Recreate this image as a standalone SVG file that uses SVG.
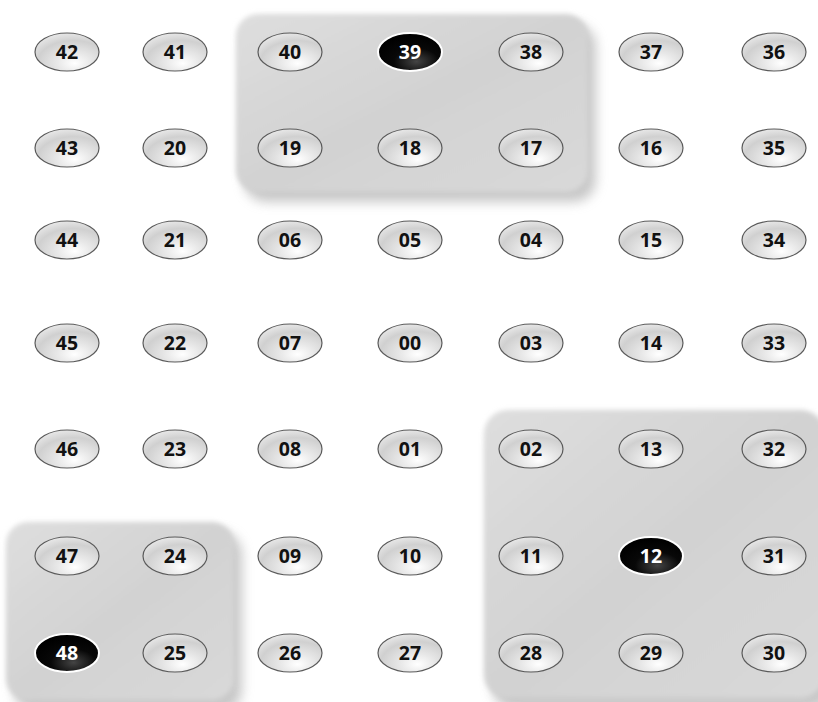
<svg xmlns="http://www.w3.org/2000/svg" width="818" height="702" viewBox="0 0 818 702">
<defs>
<linearGradient id="panelG" x1="0" y1="0" x2="1" y2="1">
<stop offset="0" stop-color="#dedede"/>
<stop offset="0.5" stop-color="#d2d2d2"/>
<stop offset="1" stop-color="#d9d9d9"/>
</linearGradient>
<radialGradient id="nodeG" cx="0.6" cy="0.75" r="0.75" fx="0.62" fy="0.8">
<stop offset="0" stop-color="#ffffff"/>
<stop offset="0.35" stop-color="#e8e8e8"/>
<stop offset="0.75" stop-color="#d0d0d0"/>
<stop offset="1" stop-color="#e6e6e6"/>
</radialGradient>
<radialGradient id="blackG" cx="0.6" cy="0.75" r="0.7">
<stop offset="0" stop-color="#444"/>
<stop offset="0.5" stop-color="#080808"/>
<stop offset="1" stop-color="#000"/>
</radialGradient>
<filter id="shadow" x="-10%" y="-10%" width="125%" height="130%">
<feGaussianBlur stdDeviation="6"/>
</filter>
<filter id="soft" x="-5%" y="-5%" width="110%" height="110%">
<feGaussianBlur stdDeviation="2.5"/>
</filter>
</defs>
<style>
.panel{fill:url(#panelG);filter:url(#soft)}
.shd{fill:#9a9a9a;opacity:0.55;filter:url(#shadow)}
.n ellipse{fill:url(#nodeG);stroke:#5a5a5a;stroke-width:1.2}
.n text{font-family:"Open Sans","Liberation Sans",sans-serif;font-weight:bold;font-size:19.5px;fill:#111;text-anchor:middle;dominant-baseline:central}
.k ellipse{fill:url(#blackG);stroke:#ffffff;stroke-width:2}
.k text{font-family:"Open Sans","Liberation Sans",sans-serif;font-weight:bold;font-size:19.5px;fill:#fff;text-anchor:middle;dominant-baseline:central}
</style>
<rect width="818" height="702" fill="#ffffff"/>
<g id="panels">
<rect class="shd" x="244" y="24" width="352" height="178" rx="22"/>
<rect class="panel" x="236" y="14" width="352" height="178" rx="22"/>
<rect class="shd" x="14" y="532" width="228" height="180" rx="22"/>
<rect class="panel" x="6" y="522" width="228" height="178" rx="22"/>
<rect class="shd" x="492" y="420" width="340" height="290" rx="24"/>
<rect class="panel" x="484" y="410" width="340" height="288" rx="24"/>
</g>
<g id="connectors"></g>
<g id="n42" class="n"><ellipse cx="67" cy="52" rx="32" ry="19"/><text x="67" y="51">42</text></g>
<g id="n41" class="n"><ellipse cx="175" cy="52" rx="32" ry="19"/><text x="175" y="51">41</text></g>
<g id="n40" class="n"><ellipse cx="290" cy="52" rx="32" ry="19"/><text x="290" y="51">40</text></g>
<g id="n39" class="k"><ellipse cx="410" cy="52" rx="32" ry="19"/><text x="410" y="51">39</text></g>
<g id="n38" class="n"><ellipse cx="531" cy="52" rx="32" ry="19"/><text x="531" y="51">38</text></g>
<g id="n37" class="n"><ellipse cx="651" cy="52" rx="32" ry="19"/><text x="651" y="51">37</text></g>
<g id="n36" class="n"><ellipse cx="774" cy="52" rx="32" ry="19"/><text x="774" y="51">36</text></g>
<g id="n43" class="n"><ellipse cx="67" cy="148" rx="32" ry="19"/><text x="67" y="147">43</text></g>
<g id="n20" class="n"><ellipse cx="175" cy="148" rx="32" ry="19"/><text x="175" y="147">20</text></g>
<g id="n19" class="n"><ellipse cx="290" cy="148" rx="32" ry="19"/><text x="290" y="147">19</text></g>
<g id="n18" class="n"><ellipse cx="410" cy="148" rx="32" ry="19"/><text x="410" y="147">18</text></g>
<g id="n17" class="n"><ellipse cx="531" cy="148" rx="32" ry="19"/><text x="531" y="147">17</text></g>
<g id="n16" class="n"><ellipse cx="651" cy="148" rx="32" ry="19"/><text x="651" y="147">16</text></g>
<g id="n35" class="n"><ellipse cx="774" cy="148" rx="32" ry="19"/><text x="774" y="147">35</text></g>
<g id="n44" class="n"><ellipse cx="67" cy="240" rx="32" ry="19"/><text x="67" y="239">44</text></g>
<g id="n21" class="n"><ellipse cx="175" cy="240" rx="32" ry="19"/><text x="175" y="239">21</text></g>
<g id="n06" class="n"><ellipse cx="290" cy="240" rx="32" ry="19"/><text x="290" y="239">06</text></g>
<g id="n05" class="n"><ellipse cx="410" cy="240" rx="32" ry="19"/><text x="410" y="239">05</text></g>
<g id="n04" class="n"><ellipse cx="531" cy="240" rx="32" ry="19"/><text x="531" y="239">04</text></g>
<g id="n15" class="n"><ellipse cx="651" cy="240" rx="32" ry="19"/><text x="651" y="239">15</text></g>
<g id="n34" class="n"><ellipse cx="774" cy="240" rx="32" ry="19"/><text x="774" y="239">34</text></g>
<g id="n45" class="n"><ellipse cx="67" cy="343" rx="32" ry="19"/><text x="67" y="342">45</text></g>
<g id="n22" class="n"><ellipse cx="175" cy="343" rx="32" ry="19"/><text x="175" y="342">22</text></g>
<g id="n07" class="n"><ellipse cx="290" cy="343" rx="32" ry="19"/><text x="290" y="342">07</text></g>
<g id="n00" class="n"><ellipse cx="410" cy="343" rx="32" ry="19"/><text x="410" y="342">00</text></g>
<g id="n03" class="n"><ellipse cx="531" cy="343" rx="32" ry="19"/><text x="531" y="342">03</text></g>
<g id="n14" class="n"><ellipse cx="651" cy="343" rx="32" ry="19"/><text x="651" y="342">14</text></g>
<g id="n33" class="n"><ellipse cx="774" cy="343" rx="32" ry="19"/><text x="774" y="342">33</text></g>
<g id="n46" class="n"><ellipse cx="67" cy="449" rx="32" ry="19"/><text x="67" y="448">46</text></g>
<g id="n23" class="n"><ellipse cx="175" cy="449" rx="32" ry="19"/><text x="175" y="448">23</text></g>
<g id="n08" class="n"><ellipse cx="290" cy="449" rx="32" ry="19"/><text x="290" y="448">08</text></g>
<g id="n01" class="n"><ellipse cx="410" cy="449" rx="32" ry="19"/><text x="410" y="448">01</text></g>
<g id="n02" class="n"><ellipse cx="531" cy="449" rx="32" ry="19"/><text x="531" y="448">02</text></g>
<g id="n13" class="n"><ellipse cx="651" cy="449" rx="32" ry="19"/><text x="651" y="448">13</text></g>
<g id="n32" class="n"><ellipse cx="774" cy="449" rx="32" ry="19"/><text x="774" y="448">32</text></g>
<g id="n47" class="n"><ellipse cx="67" cy="556" rx="32" ry="19"/><text x="67" y="555">47</text></g>
<g id="n24" class="n"><ellipse cx="175" cy="556" rx="32" ry="19"/><text x="175" y="555">24</text></g>
<g id="n09" class="n"><ellipse cx="290" cy="556" rx="32" ry="19"/><text x="290" y="555">09</text></g>
<g id="n10" class="n"><ellipse cx="410" cy="556" rx="32" ry="19"/><text x="410" y="555">10</text></g>
<g id="n11" class="n"><ellipse cx="531" cy="556" rx="32" ry="19"/><text x="531" y="555">11</text></g>
<g id="n12" class="k"><ellipse cx="651" cy="556" rx="32" ry="19"/><text x="651" y="555">12</text></g>
<g id="n31" class="n"><ellipse cx="774" cy="556" rx="32" ry="19"/><text x="774" y="555">31</text></g>
<g id="n48" class="k"><ellipse cx="67" cy="653" rx="32" ry="19"/><text x="67" y="652">48</text></g>
<g id="n25" class="n"><ellipse cx="175" cy="653" rx="32" ry="19"/><text x="175" y="652">25</text></g>
<g id="n26" class="n"><ellipse cx="290" cy="653" rx="32" ry="19"/><text x="290" y="652">26</text></g>
<g id="n27" class="n"><ellipse cx="410" cy="653" rx="32" ry="19"/><text x="410" y="652">27</text></g>
<g id="n28" class="n"><ellipse cx="531" cy="653" rx="32" ry="19"/><text x="531" y="652">28</text></g>
<g id="n29" class="n"><ellipse cx="651" cy="653" rx="32" ry="19"/><text x="651" y="652">29</text></g>
<g id="n30" class="n"><ellipse cx="774" cy="653" rx="32" ry="19"/><text x="774" y="652">30</text></g>
</svg>
